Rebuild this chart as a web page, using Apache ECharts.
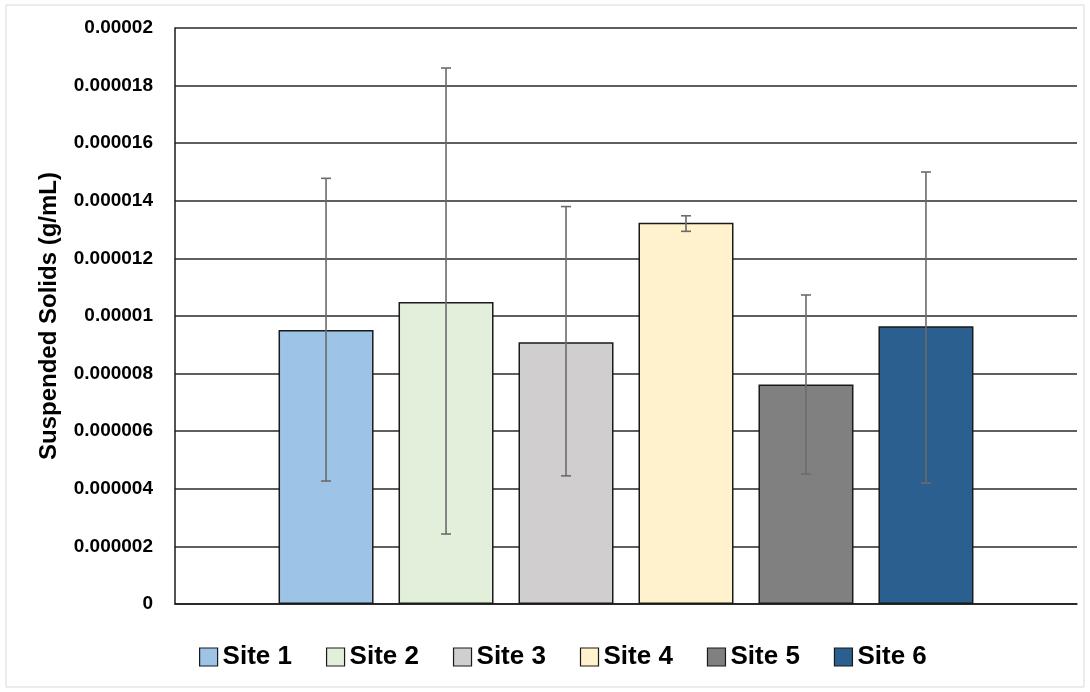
<!DOCTYPE html>
<html>
<head>
<meta charset="utf-8">
<script src="https://cdn.jsdelivr.net/npm/echarts@6/dist/echarts.min.js"></script>
<style>
html,body{margin:0;padding:0;background:#fff;}
#chart{width:1090px;height:692px;}
</style>
</head>
<body>
<div id="chart"></div>
<script>
const sites = ['Site 1','Site 2','Site 3','Site 4','Site 5','Site 6'];
const means = [0.00000951, 0.00001049, 0.00000909, 0.00001324, 0.00000762, 0.00000964];
const errLow = [0.00000427, 0.00000243, 0.00000445, 0.00001294, 0.00000451, 0.00000420];
const errHigh = [0.00001478, 0.00001861, 0.00001380, 0.00001348, 0.00001073, 0.00001500];
const colors = ['#9DC3E6','#E2EFDA','#D0CECE','#FFF2CC','#808080','#2A5F8F'];
const yTicks = ['0','0.000002','0.000004','0.000006','0.000008','0.00001','0.000012','0.000014','0.000016','0.000018','0.00002'];

const FONT = 'Liberation Sans';
const barWidth = 95;
const barGapRatio = 0.263;

const chart = echarts.init(document.getElementById('chart'));

const barSeries = sites.map((s,i)=>({
  name: s,
  type: 'bar',
  data: [means[i]],
  barWidth: barWidth,
  barGap: (barGapRatio*100)+'%',
  itemStyle: {color: colors[i], borderColor: '#1a1a1a', borderWidth: 1.5},
  z: 2
}));

const errData = sites.map((s,i)=>[i, errLow[i], errHigh[i]]);

const errSeries = {
  type: 'custom',
  name: 'err',
  data: errData,
  z: 5,
  encode: {y: [1,2]},
  renderItem: function(params, api){
    const i = api.value(0);
    const lo = api.coord([0, api.value(1)]);
    const hi = api.coord([0, api.value(2)]);
    const step = barWidth*(1+barGapRatio);
    const x = lo[0] + (i - (sites.length-1)/2)*step;
    const cap = 5;
    const st = {stroke:'#6b6b6b', lineWidth:1.6};
    return {type:'group', children:[
      {type:'line', shape:{x1:x,y1:lo[1],x2:x,y2:hi[1]}, style:st},
      {type:'line', shape:{x1:x-cap,y1:lo[1],x2:x+cap,y2:lo[1]}, style:st},
      {type:'line', shape:{x1:x-cap,y1:hi[1],x2:x+cap,y2:hi[1]}, style:st}
    ]};
  }
};

chart.setOption({
  animation: false,
  textStyle: {fontFamily: FONT},
  graphic: [{type:'rect', shape:{x:6,y:5,width:1078,height:682}, style:{fill:'none', stroke:'#d9d9d9', lineWidth:1}, z:-1}],
  grid: {left:175, right:13, top:28, bottom:88, containLabel:false},
  legend: {
    data: sites,
    bottom: 17,
    left: 194,
    itemWidth: 18, itemHeight: 18,
    itemGap: 34,
    icon: 'rect',
    textStyle: {fontFamily: FONT, fontWeight:'bold', fontSize: 26, color:'#000'},
    itemStyle: {borderColor:'#1a1a1a', borderWidth:1.2}
  },
  xAxis: {
    type: 'category',
    data: [''],
    axisLine: {lineStyle:{color:'#1a1a1a', width:1.5}},
    axisTick: {show:false},
    axisLabel: {show:false}
  },
  yAxis: {
    type: 'value',
    min: 0, max: 0.00002, interval: 0.000002,
    name: 'Suspended Solids (g/mL)',
    nameLocation: 'middle',
    nameGap: 114,
    nameTextStyle: {fontFamily: FONT, fontWeight:'bold', fontSize: 24, color:'#000'},
    axisLine: {show:true, lineStyle:{color:'#1a1a1a', width:1.5}},
    axisTick: {show:false},
    axisLabel: {
      margin: 22, fontFamily: FONT, fontWeight:'bold', fontSize: 19, color:'#000',
      formatter: function(v){ const idx = Math.round(v/0.000002); return yTicks[idx] !== undefined ? yTicks[idx] : ''; }
    },
    splitLine: {lineStyle:{color:'#2a2a2a', width:1.5}}
  },
  series: barSeries.concat([errSeries])
});
</script>
</body>
</html>
